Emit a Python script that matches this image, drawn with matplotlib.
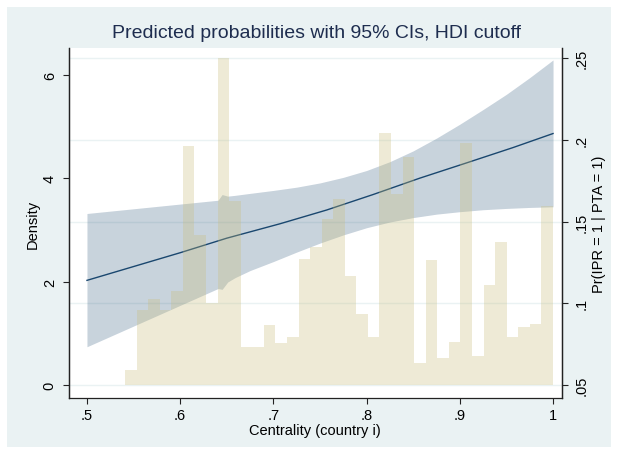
import matplotlib
matplotlib.use('Agg')
import matplotlib.pyplot as plt
import numpy as np
from matplotlib.patches import Rectangle

plt.rcParams['font.family'] = ['Liberation Sans', 'DejaVu Sans']

# histogram of centrality (density scale)
bin_start = 0.5408
bin_width = 0.01241
density = [0.29, 1.45, 1.66, 1.45, 1.82, 4.62, 2.91, 1.59, 6.32, 3.57,
           0.74, 0.73, 1.17, 0.82, 0.93, 2.44, 2.68, 3.21, 3.60, 2.11,
           1.37, 0.92, 4.87, 3.69, 4.42, 0.43, 2.42, 0.53, 0.84, 4.68,
           0.57, 1.94, 2.76, 0.93, 1.12, 1.18, 3.47]

# predicted probability and 95% CI
band_x = [0.500, 0.6406, 0.6450, 0.6510, 0.6590, 0.675, 0.700, 0.725, 0.750, 0.775,
          0.800, 0.825, 0.850, 0.875, 0.900, 0.925, 0.950, 0.975, 1.000]
ci_hi = [0.1549, 0.1630, 0.1665, 0.1655, 0.1660, 0.1672, 0.1690, 0.1710, 0.1736, 0.1770,
         0.1812, 0.1866, 0.1932, 0.2010, 0.2095, 0.2185, 0.2278, 0.2380, 0.2488]
ci_lo = [0.0734, 0.1090, 0.1085, 0.1130, 0.1157, 0.1200, 0.1255, 0.1313, 0.1368, 0.1418,
         0.1462, 0.1497, 0.1524, 0.1545, 0.1560, 0.1572, 0.1580, 0.1586, 0.1590]
line_x = [0.5, 0.6, 0.65, 0.707, 0.757, 0.807, 0.857, 0.907, 0.957, 1.0]
line_p = [0.114, 0.1309, 0.1398, 0.1486, 0.157, 0.1665, 0.1765, 0.1858, 0.1952, 0.2038]

x_ticks = [0.5, 0.6, 0.7, 0.8, 0.9, 1.0]
x_labels = ['.5', '.6', '.7', '.8', '.9', '1']
d_ticks = [0, 2, 4, 6]
p_ticks = [0.05, 0.10, 0.15, 0.20, 0.25]
p_labels = ['.05', '.1', '.15', '.2', '.25']

navy = '#1a476f'
bg = '#eaf2f3'
W, H = 618, 452

fig = plt.figure(figsize=(W / 100, H / 100), dpi=100, facecolor='white')
fig.patches.append(Rectangle((7 / W, 4 / H), 604 / W, 440 / H, transform=fig.transFigure,
                             facecolor=bg, edgecolor='none', zorder=-10))

# main axes holds the probability (right scale), twin holds histogram (left scale)
ax_p = fig.add_axes([68.6 / W, (H - 399) / H, (561.7 - 68.6) / W, (399 - 49.3) / H])
ax_p.set_facecolor('white')
ax_d = ax_p.twinx()

ax_p.fill_between(band_x, ci_lo, ci_hi, color=navy, alpha=0.24, linewidth=0, zorder=2)
ax_p.plot(line_x, line_p, color=navy, lw=1.0, zorder=3)

edges = bin_start + bin_width * np.arange(len(density))
ax_d.bar(edges, density, width=bin_width, align='edge', color='#c8bc7a', alpha=0.3,
         linewidth=0, zorder=2)

ax_p.set_xlim(0.4803, 1.0093)
ax_p.set_ylim(0.05 - 13 / 1635, 0.05 + 336.7 / 1635)
ax_d.set_ylim(-13 / 51.67, 336.7 / 51.67)

ax_p.yaxis.tick_right()
ax_p.yaxis.set_label_position('right')
ax_d.yaxis.tick_left()
ax_d.yaxis.set_label_position('left')

ax_p.set_xticks(x_ticks)
ax_p.set_xticklabels(x_labels, fontsize=10.5)
ax_p.set_yticks(p_ticks)
ax_p.set_yticklabels(p_labels, fontsize=10.5, rotation=90, va='center')
ax_d.set_yticks(d_ticks)
ax_d.set_yticklabels([str(t) for t in d_ticks], fontsize=10.5, rotation=90, va='center')

ax_p.grid(axis='y', color=bg, lw=1.0, zorder=1)
ax_p.set_axisbelow(True)

for a in (ax_p, ax_d):
    a.tick_params(length=4, width=0.8, color='#222222', labelcolor='black', pad=3)
    a.spines['top'].set_visible(False)
    for s in ('left', 'right', 'bottom'):
        a.spines[s].set_linewidth(0.9)
        a.spines[s].set_color('#222222')
ax_d.spines['bottom'].set_visible(False)
ax_d.tick_params(axis='y', pad=4.5)
ax_p.tick_params(axis='y', pad=5)

ax_p.set_xlabel('Centrality (country i)', fontsize=10.5, labelpad=1)
ax_p.set_ylabel('Pr(IPR = 1 | PTA = 1)', fontsize=10.5, labelpad=3)
ax_d.set_ylabel('Density', fontsize=10.5, labelpad=2)

fig.text(316 / W, 1 - 34 / H, 'Predicted probabilities with 95% CIs, HDI cutoff',
         ha='center', va='center', fontsize=14, color='#1e2d4f')

fig.savefig('out.png', dpi=100, facecolor='white')
